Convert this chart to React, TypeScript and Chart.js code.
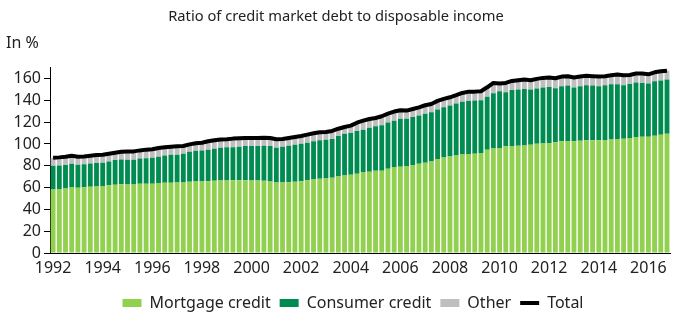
import React, { useEffect, useRef } from 'react';
import { Chart, registerables } from 'chart.js';

Chart.register(...registerables);

const firstYear = 1992;
const lastYear = 2016;
const quarterNames = ['Q1', 'Q2', 'Q3', 'Q4'];
const categories: string[] = [];
for (let y = firstYear; y <= lastYear; y++) {
  for (const q of quarterNames) categories.push(`${y} ${q}`);
}

const yearTickLabels = ['1992', '1994', '1996', '1998', '2000', '2002', '2004', '2006', '2008', '2010', '2012', '2014', '2016'];

const mortgageCredit = [
  58.2, 58.8, 59.2, 60.1, 59.8, 60.4, 60.7, 61.0, 61.0, 62.2, 62.5, 63.1, 62.8, 62.8, 63.4, 63.4, 63.4, 64.1, 64.4, 64.4, 64.7, 64.7, 65.3, 65.6, 65.6,
  65.9, 66.2, 66.5, 66.5, 66.8, 66.8, 66.8, 66.5, 66.5, 66.2, 65.6, 64.7, 64.7, 65.0, 65.3, 65.9, 66.8, 67.4, 68.0, 68.4, 69.0, 70.2, 71.1, 71.7, 72.6,
  74.2, 74.5, 75.4, 75.4, 77.2, 78.8, 79.1, 79.7, 80.6, 81.8, 82.8, 84.0, 86.1, 87.7, 88.6, 89.5, 90.4, 90.7, 91.0, 91.6, 94.7, 95.9, 96.2, 97.8, 98.1,
  98.4, 98.7, 99.3, 100.2, 100.5, 100.8, 101.5, 102.4, 102.7, 102.4, 103.0, 103.3, 103.3, 103.3, 103.6, 104.2, 104.5, 104.8, 105.1, 106.4, 106.7, 106.7, 107.6, 108.5, 109.4,
];

const consumerCredit = [
  21.8, 21.5, 21.4, 21.7, 21.1, 21.1, 21.4, 21.5, 21.8, 21.8, 22.7, 22.7, 22.7, 22.7, 23.3, 23.6, 24.0, 24.2, 25.1, 25.7, 25.4, 26.3, 27.6, 28.2, 28.5,
  28.8, 29.4, 30.1, 30.4, 30.1, 30.7, 31.3, 31.6, 31.6, 32.2, 32.5, 31.9, 32.8, 33.4, 34.0, 34.4, 34.3, 35.0, 35.3, 35.5, 35.5, 37.1, 38.3, 38.3, 39.3,
  38.9, 40.4, 40.8, 41.7, 42.6, 42.6, 44.1, 43.5, 44.2, 44.2, 45.0, 45.0, 45.4, 45.9, 46.6, 47.5, 48.4, 48.8, 48.8, 48.5, 48.7, 50.6, 52.1, 49.6, 51.5,
  51.5, 51.8, 50.6, 50.6, 51.2, 51.5, 49.6, 50.6, 50.9, 49.3, 50.0, 50.6, 50.3, 49.7, 50.3, 50.6, 50.3, 49.1, 50.0, 49.9, 49.3, 48.7, 49.9, 49.6, 49.7,
];

const otherCredit = [
  7.4, 7.4, 7.7, 7.4, 7.4, 7.1, 7.1, 7.3, 7.3, 7.0, 6.8, 7.1, 7.7, 7.7, 7.4, 7.8, 7.7, 8.0, 7.4, 7.4, 7.7, 7.1, 6.7, 6.8, 7.0,
  7.8, 7.8, 7.4, 7.4, 8.0, 7.7, 7.4, 7.4, 7.4, 7.4, 7.4, 7.7, 7.1, 7.1, 7.1, 7.0, 7.5, 7.4, 7.4, 7.1, 7.4, 6.7, 6.2, 6.8, 7.6,
  8.3, 8.0, 7.6, 8.3, 8.0, 8.3, 7.7, 7.4, 7.3, 7.6, 7.7, 7.7, 8.0, 7.7, 7.6, 7.7, 8.0, 8.5, 8.2, 8.3, 8.6, 9.5, 7.1, 8.6, 8.2,
  8.6, 8.6, 8.6, 8.9, 8.9, 8.6, 9.2, 8.8, 8.5, 9.2, 8.8, 8.6, 8.5, 8.8, 8.2, 8.2, 8.9, 9.1, 8.2, 8.3, 8.6, 8.5, 8.2, 8.5, 8.1,
];

const totalCredit = mortgageCredit.map((m, i) => +(m + consumerCredit[i] + otherCredit[i]).toFixed(1));

const FONT = "'Noto Sans', sans-serif";
const TEXT = '#222222';

const inPercentLabel = {
  id: 'inPercentLabel',
  afterDraw(chart: any) {
    const ctx = chart.ctx;
    ctx.save();
    ctx.font = `16px ${FONT}`;
    ctx.fillStyle = TEXT;
    ctx.textBaseline = 'middle';
    ctx.textAlign = 'left';
    ctx.fillText('In %', 6, 43);
    ctx.restore();
  },
};

const legendShift = {
  id: 'legendShift',
  afterLayout(chart: any) {
    const l = chart.legend;
    if (!l) return;
    const dx = 17;
    const dy = 7;
    l.left += dx;
    l.right += dx;
    l.top += dy;
    l.bottom += dy;
  },
};

export default function App() {
  const ref = useRef<HTMLCanvasElement>(null);
  useEffect(() => {
    if (!ref.current) return;
    const chart = new Chart(ref.current, {
      type: 'bar',
      data: {
        labels: categories,
        datasets: [
          { type: 'bar', label: 'Mortgage credit', data: mortgageCredit, backgroundColor: '#92D050', order: 1, barPercentage: 0.78, categoryPercentage: 1 },
          { type: 'bar', label: 'Consumer credit', data: consumerCredit, backgroundColor: '#008C50', order: 1, barPercentage: 0.78, categoryPercentage: 1 },
          { type: 'bar', label: 'Other', data: otherCredit, backgroundColor: '#BFBFBF', order: 1, barPercentage: 0.78, categoryPercentage: 1 },
          { type: 'line', label: 'Total', data: totalCredit, borderColor: '#000000', backgroundColor: '#000000', borderWidth: 4, pointRadius: 0, tension: 0, fill: false, order: 0, borderJoinStyle: 'round' } as any,
        ],
      },
      options: {
        animation: false,
        responsive: true,
        maintainAspectRatio: false,
        layout: { padding: { left: 0, right: 1, top: 0, bottom: 0 } },
        font: { family: FONT },
        plugins: {
          title: {
            display: true,
            text: 'Ratio of credit market debt to disposable income',
            color: TEXT,
            font: { family: FONT, size: 14.7, weight: 'normal' },
            padding: { top: 8, bottom: 42 },
          },
          legend: {
            display: true,
            position: 'bottom',
            labels: {
              usePointStyle: true,
              pointStyleWidth: 19,
              boxWidth: 19,
              boxHeight: 8,
              padding: 9,
              color: TEXT,
              font: { family: FONT, size: 16 },
              generateLabels: (c: any) =>
                c.data.datasets.map((ds: any, i: number) =>
                  ds.type === 'line'
                    ? { text: ds.label, fillStyle: '#000', strokeStyle: '#000', lineWidth: 4, lineCap: 'butt', pointStyle: 'line', datasetIndex: i, hidden: false, fontColor: TEXT }
                    : { text: ds.label, fillStyle: ds.backgroundColor, strokeStyle: ds.backgroundColor, lineWidth: 0, pointStyle: 'rect', datasetIndex: i, hidden: false, fontColor: TEXT }
                ),
            },
          },
          tooltip: { enabled: false },
        },
        scales: {
          x: {
            stacked: true,
            offset: true,
            grid: { display: false, drawTicks: false },
            border: { display: true, color: '#000', width: 1 },
            afterFit: (s: any) => { s.height = 26; },
            ticks: {
              autoSkip: false,
              maxRotation: 0,
              minRotation: 0,
              padding: 6,
              color: TEXT,
              font: { family: FONT, size: 16 },
              callback: (_v: any, index: number) => {
                const [y, q] = categories[index].split(' ');
                return q === 'Q1' && yearTickLabels.includes(y) ? y : '';
              },
            },
          },
          y: {
            stacked: true,
            min: 0,
            max: 170,
            afterFit: (s: any) => { s.width = 50; },
            grid: { display: true, drawOnChartArea: false, drawTicks: true, tickLength: 6, color: '#000' },
            border: { display: true, color: '#000', width: 1 },
            ticks: { stepSize: 20, includeBounds: false, padding: 3, color: TEXT, font: { family: FONT, size: 16 } },
          },
        },
      },
      plugins: [inPercentLabel, legendShift],
    } as any);
    return () => chart.destroy();
  }, []);

  return (
    <div style={{ position: 'fixed', left: 0, top: 0, width: 673, height: 314, background: '#fff' }}>
      <canvas ref={ref} />
    </div>
  );
}
